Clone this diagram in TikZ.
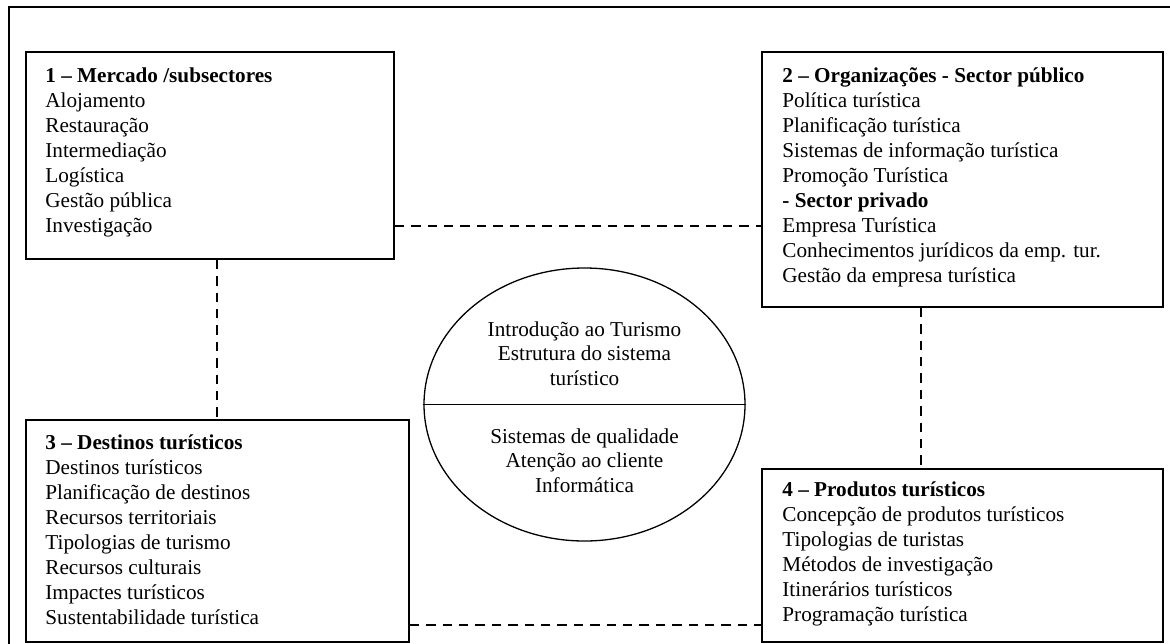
\documentclass[tikz,border=0pt]{standalone}
\usepackage{fontspec}
\setmainfont{Liberation Serif}
\usetikzlibrary{shapes.geometric}
\begin{document}
\begin{tikzpicture}[x=0.5pt,y=-0.5pt,
  panel/.style={draw,line width=0.9pt,rectangle,anchor=north west,inner sep=0pt},
  body/.style={anchor=north west,inner sep=0pt,align=left,font=\fontsize{10.6}{12.5}\selectfont},
  core/.style={anchor=north,inner sep=0pt,align=center,font=\fontsize{10.6}{12.3}\selectfont},
  link/.style={dash pattern=on 4.7pt off 3.5pt,line width=0.7pt}]
\clip (0,0) rectangle (1170,643);
\fill[white] (0,0) rectangle (1170,643);
% outer frame (runs past the right and bottom edges)
\draw[line width=1pt] (9,7) rectangle (1220,700);

% the four subject panels
\node[panel,minimum width=184pt,minimum height=103.5pt] (b1) at (25,51) {};
\node[panel,minimum width=200.5pt,minimum height=127.5pt] (b2) at (761,51) {};
\node[panel,minimum width=191.5pt,minimum height=111pt] (b3) at (25,419) {};
\node[panel,minimum width=200.5pt,minimum height=86.5pt] (b4) at (761,468) {};

\node[body] (t1) at (45,64.5) {\strut\textbf{1 \textendash{} Mercado /subsectores}\\
  Alojamento\\ Restauração\\ Intermediação\\ Logística\\ Gestão pública\\ Investigação};
\node[body] (t2) at (782,64.5) {\strut\textbf{2 \textendash{} Organizações - Sector público}\\
  Política turística\\ Planificação turística\\ Sistemas de informação turística\\
  Promoção Turística\\ \textbf{- Sector privado}\\ Empresa Turística\\
  Conhecimentos jurídicos da emp. tur.\\ Gestão da empresa turística};
\node[body] (t3) at (45,431.5) {\strut\textbf{3 \textendash{} Destinos turísticos}\\
  Destinos turísticos\\ Planificação de destinos\\ Recursos territoriais\\
  Tipologias de turismo\\ Recursos culturais\\ Impactes turísticos\\
  Sustentabilidade turística};
\node[body] (t4) at (782,478.5) {\strut\textbf{4 \textendash{} Produtos turísticos}\\
  Concepção de produtos turísticos\\ Tipologias de turistas\\
  Métodos de investigação\\ Itinerários turísticos\\ Programação turística};

% central core ellipse
\node[draw,ellipse,line width=0.65pt,inner sep=0pt,minimum width=160.5pt,minimum height=136.5pt] (core) at (584.5,404.5) {};
\draw[line width=0.65pt] (core.west) -- (core.east);
\node[core] (c1) at (584.5,318.5) {\strut Introdução ao Turismo\\ Estrutura do sistema\\ turístico};
\node[core] (c2) at (584.5,425.5) {\strut Sistemas de qualidade\\ Atenção ao cliente\\ Informática};

% dashed links between panels
\draw[link] (b1.east |- 0,226) -- (b2.west |- 0,226);
\draw[link] (b1.south -| 217,0) -- (b3.north -| 217,0);
\draw[link] (b2.south -| 921,0) -- (b4.north -| 921,0);
\draw[link] (b3.east |- 0,625) -- (b4.west |- 0,625);
\end{tikzpicture}
\end{document}
